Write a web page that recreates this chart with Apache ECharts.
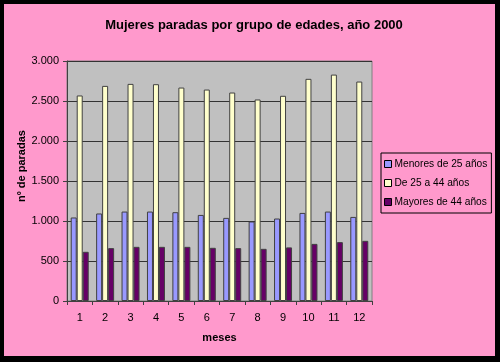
<!DOCTYPE html>
<html><head><meta charset="utf-8">
<script src="https://cdn.jsdelivr.net/npm/echarts@6/dist/echarts.min.js"></script>
<style>html,body{margin:0;padding:0;background:#000}#c{width:500px;height:362px}</style>
</head><body><div id="c"></div>
<script>
var categories = ['1','2','3','4','5','6','7','8','9','10','11','12'];
var menores25 = [1044,1094,1118,1118,1110,1076,1039,994,1031,1101,1118,1051];
var de25a44 = [2569,2689,2714,2710,2668,2643,2606,2519,2565,2777,2830,2743];
var mayores44 = [615,661,677,677,677,665,661,652,670,714,736,752];
var seriesNames = ['Menores de 25 años','De 25 a 44 años','Mayores de 44 años'];
var yTicks = {min:0, max:3000, interval:500};

var chart = echarts.init(document.getElementById('c'), null, {renderer:'canvas'});
function fmt(v){ return String(v).replace(/\B(?=(\d{3})+(?!\d))/g,'.'); }
var colors = ['#9999FF','#FFFFCC','#660066'];
var vals = [menores25, de25a44, mayores44];
chart.setOption({
  backgroundColor:'#FF99CC',
  animation:false,
  title:{text:'Mujeres paradas por grupo de edades, año 2000', left:249, top:14, textAlign:'center',
    textStyle:{fontFamily:'Arial, Liberation Sans', fontSize:13, fontWeight:'bold', color:'#000'}},
  graphic:[
    {type:'rect', shape:{x:0,y:0,width:500,height:4}, style:{fill:'#000'}},
    {type:'rect', shape:{x:0,y:356,width:500,height:6}, style:{fill:'#000'}},
    {type:'rect', shape:{x:0,y:0,width:4,height:362}, style:{fill:'#000'}},
    {type:'rect', shape:{x:495,y:0,width:5,height:362}, style:{fill:'#000'}},
    {type:'text', x:22, y:166, rotation:Math.PI/2,
      style:{text:'nº de paradas', fill:'#000', font:'bold 11px Arial, Liberation Sans', textAlign:'center', textVerticalAlign:'middle'}}
  ],
  legend:{orient:'vertical', left:381, top:153, itemWidth:7, itemHeight:7, itemGap:5,
    padding:[4,4,4,3], borderColor:'#000', borderWidth:1, backgroundColor:'#FF99CC',
    icon:'rect',
    textStyle:{fontFamily:'Arial, Liberation Sans', fontSize:10.2, color:'#000', lineHeight:14, padding:[0,0,0,-2]},
    data:seriesNames.map(function(n){return {name:n, itemStyle:{borderColor:'#000',borderWidth:1}};})},
  grid:{left:67, top:61, width:305, height:240, show:true, backgroundColor:'#C0C0C0', borderColor:'#808080', borderWidth:1},
  xAxis:{type:'category', data:categories, name:'meses', nameLocation:'middle', nameGap:31,
    nameTextStyle:{fontFamily:'Arial, Liberation Sans', fontSize:11, fontWeight:'bold', color:'#000'},
    axisLine:{lineStyle:{color:'#404040'}}, axisTick:{show:true, length:4, lineStyle:{color:'#404040'}},
    axisLabel:{fontFamily:'Arial, Liberation Sans', fontSize:11, color:'#000', margin:11}},
  yAxis:{type:'value', min:yTicks.min, max:yTicks.max, interval:yTicks.interval,
    axisLine:{show:true, lineStyle:{color:'#404040'}}, axisTick:{show:true, length:4, lineStyle:{color:'#404040'}},
    splitLine:{lineStyle:{color:'#333', width:1}},
    axisLabel:{fontFamily:'Arial, Liberation Sans', fontSize:11, color:'#000', margin:8, formatter:fmt}},
  series: seriesNames.map(function(n,i){
    return {name:n, type:'bar', data:vals[i], barWidth:6, barGap:'0%',
      itemStyle:{color:colors[i], borderColor:'#404040', borderWidth:1}};
  })
});
</script></body></html>
